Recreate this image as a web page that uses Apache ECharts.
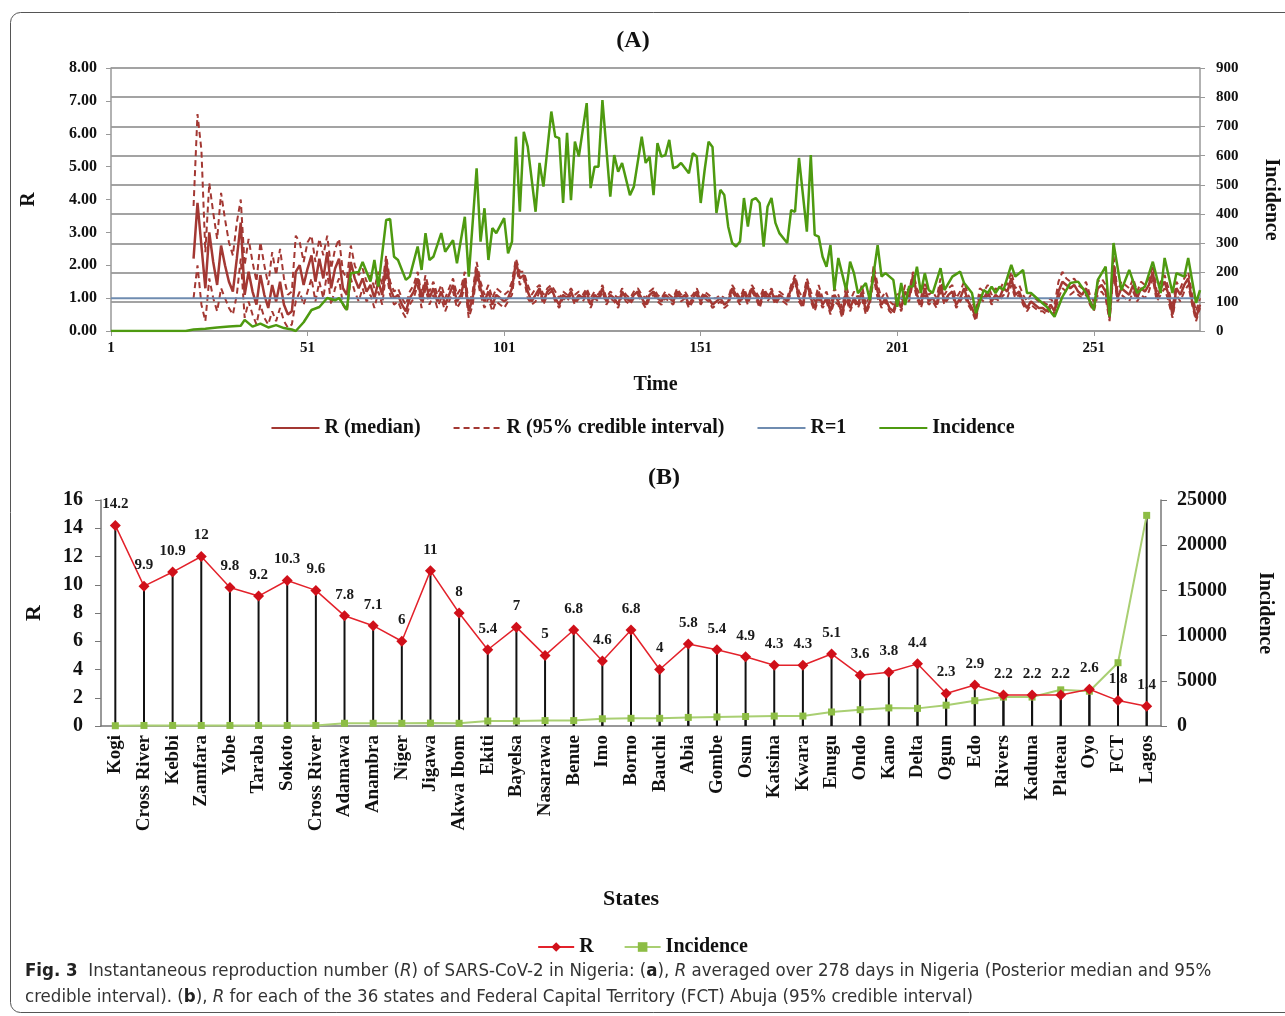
<!DOCTYPE html>
<html>
<head>
<meta charset="utf-8">
<script src="https://cdn.jsdelivr.net/npm/echarts@6/dist/echarts.min.js"></script>
<style>
html, body { margin: 0; background: #fff; }
#main { width: 1285px; height: 1016px; }
</style>
</head>
<body>
<div id="main"></div>
<script>
// ---- panel A : daily series (day 1..278) ----
var incDay = [1,20,22,25,28,31,34,35,37,39,41,43,45,47,48,50,52,54,56,58,59,61,62,64,65,67,68,69,71,72,73,74,76,77,79,80,81,82,83,85,86,88,89,91,92,94,95,96,97,98,99,101,102,103,104,105,106,107,109,110,111,113,114,115,116,117,118,119,120,122,123,124,125,126,128,129,130,131,133,134,136,137,138,139,140,141,142,143,144,145,146,148,149,150,151,152,153,154,155,156,157,158,159,160,161,162,163,164,165,166,167,168,169,170,171,173,174,175,176,178,179,180,181,182,183,184,185,186,188,189,190,191,193,194,195,196,197,198,200,201,202,203,204,205,206,207,208,209,210,212,213,215,217,218,220,221,223,224,225,226,227,228,230,231,233,234,235,237,239,241,243,245,247,249,251,252,254,255,256,258,260,262,264,266,268,269,271,272,274,275,277,278];
var incVal = [0,0,5,8,12,15,18,38,15,25,12,20,10,5,0,30,72,82,113,105,113,72,198,202,236,169,243,152,380,383,254,243,175,186,289,209,335,243,254,335,271,311,232,391,186,557,306,420,243,352,335,386,266,306,665,408,682,631,408,575,494,751,665,660,438,678,448,648,597,780,489,562,562,790,460,602,545,575,465,494,665,575,597,465,643,597,602,654,557,562,575,540,608,597,438,551,648,630,404,483,465,357,301,289,306,455,357,448,455,438,289,425,455,370,335,301,414,408,592,340,602,329,323,254,220,294,140,250,140,237,197,129,164,106,198,294,186,198,175,83,164,89,152,152,220,130,198,140,130,215,140,186,203,164,130,61,140,130,152,130,152,140,226,186,209,130,130,106,83,49,117,164,169,130,72,175,220,49,301,140,209,130,152,237,130,250,130,198,186,250,96,140];

var rStart = 22; // first day with an R estimate
var rMed = [
  2.2,3.9,2.6,1.3,3.0,2.1,1.4,2.6,2.0,1.5,
  1.2,2.2,3.3,1.1,1.8,1.2,0.8,1.7,1.1,0.7,
  1.4,0.9,1.5,0.8,0.5,0.6,1.8,2.0,1.4,1.9,
  2.3,1.5,2.2,1.6,2.4,1.3,1.9,2.2,1.3,1.1,
  2.1,1.6,1.3,1.6,1.2,1.4,1.0,1.5,1.1,2.1,
  1.3,1.0,1.1,0.8,0.6,1.0,1.2,1.6,0.9,1.5,
  1.0,1.3,0.9,1.2,0.8,1.1,1.4,0.9,1.1,1.6,
  0.6,1.0,1.9,1.3,0.9,1.2,0.8,1.1,1.0,0.9,
  1.0,1.3,2.1,1.6,1.7,1.2,0.9,1.1,1.3,0.9,
  1.2,1.3,1.0,0.8,1.1,1.0,1.2,0.9,1.1,1.0,
  1.2,0.8,1.1,1.0,1.3,0.9,1.1,1.0,0.8,1.2,
  1.0,0.9,1.1,1.2,1.0,0.8,1.1,1.2,1.0,0.9,
  1.1,1.0,0.9,1.2,1.0,1.1,0.8,1.0,1.2,0.9,
  1.1,1.0,0.8,0.9,1.0,0.8,0.9,1.3,1.1,0.9,
  1.2,0.9,1.3,1.1,0.8,1.2,1.0,1.2,0.9,1.1,
  1.0,0.9,1.3,1.6,1.0,0.8,1.5,1.0,0.7,1.2,
  0.8,1.0,0.6,1.1,0.9,0.5,1.2,0.7,1.0,0.8,
  1.2,0.6,0.9,1.8,1.2,0.8,1.0,0.7,0.6,1.0,
  0.7,1.2,1.0,1.7,1.1,0.8,1.3,0.9,1.0,0.8,
  1.4,0.9,1.1,1.2,0.8,1.0,1.3,0.9,0.7,0.4,
  1.1,1.0,1.2,0.9,1.1,1.0,1.3,1.2,1.6,1.1,
  1.2,0.9,0.7,0.9,0.8,0.7,0.7,0.6,0.8,0.6,
  1.2,1.5,1.4,1.3,1.4,1.2,1.1,1.3,0.9,0.7,
  1.3,1.4,1.2,0.4,2.0,1.0,1.3,1.2,1.1,1.4,
  1.0,1.3,1.2,1.4,1.8,1.0,1.3,1.5,1.1,0.5,
  1.3,1.1,1.4,1.6,0.9,0.4,0.8
];
var rHi = [
  3.8,6.6,5.5,2.4,4.5,3.6,2.8,4.2,3.4,2.7,
  2.3,3.3,4.0,2.0,2.8,2.1,1.5,2.7,2.0,1.4,
  2.4,1.7,2.5,1.6,1.1,1.2,2.9,2.7,2.1,2.7,
  2.9,2.1,2.8,2.3,2.9,1.9,2.5,2.8,1.8,1.6,
  2.6,2.0,1.7,1.9,1.5,1.7,1.3,1.8,1.4,2.3,
  1.5,1.2,1.3,1.0,0.8,1.2,1.4,1.8,1.1,1.7,
  1.2,1.5,1.1,1.4,1.0,1.3,1.6,1.1,1.3,1.8,
  0.8,1.2,2.1,1.5,1.1,1.4,1.0,1.3,1.2,1.1,
  1.2,1.5,2.2,1.8,1.8,1.4,1.1,1.3,1.4,1.1,
  1.3,1.4,1.2,1.0,1.2,1.1,1.3,1.1,1.2,1.1,
  1.3,1.0,1.2,1.1,1.4,1.0,1.2,1.1,1.0,1.3,
  1.1,1.0,1.2,1.3,1.1,1.0,1.2,1.3,1.1,1.0,
  1.2,1.1,1.0,1.3,1.1,1.2,1.0,1.1,1.3,1.0,
  1.2,1.1,1.0,1.0,1.1,1.0,1.0,1.4,1.2,1.0,
  1.3,1.0,1.4,1.2,1.0,1.3,1.1,1.3,1.0,1.2,
  1.1,1.0,1.4,1.7,1.2,1.0,1.6,1.2,0.9,1.4,
  1.0,1.2,0.8,1.3,1.1,0.7,1.4,0.9,1.2,1.0,
  1.4,0.8,1.1,2.0,1.4,1.0,1.2,0.9,0.8,1.2,
  0.9,1.4,1.2,1.8,1.3,1.0,1.5,1.1,1.2,1.0,
  1.6,1.1,1.3,1.4,1.0,1.2,1.5,1.1,0.9,0.6,
  1.3,1.2,1.4,1.1,1.3,1.2,1.5,1.4,1.8,1.3,
  1.4,1.1,0.9,1.1,1.0,0.9,0.9,0.8,1.0,0.8,
  1.5,1.8,1.6,1.5,1.6,1.4,1.3,1.5,1.1,0.9,
  1.5,1.6,1.4,0.6,2.3,1.2,1.5,1.4,1.3,1.6,
  1.2,1.5,1.4,1.6,2.0,1.2,1.5,1.7,1.3,0.7,
  1.5,1.3,1.6,1.8,1.1,0.6,1.0
];
var rLo = [
  1.0,2.0,0.8,0.3,1.6,1.0,0.6,1.3,1.0,0.7,
  0.5,1.1,2.2,0.4,0.9,0.5,0.2,0.8,0.4,0.2,
  0.6,0.3,0.7,0.3,0.1,0.2,0.9,1.2,0.8,1.2,
  1.6,0.9,1.5,1.0,1.8,0.8,1.3,1.6,0.8,0.6,
  1.6,1.2,0.9,1.3,0.9,1.1,0.7,1.2,0.8,1.8,
  1.1,0.8,0.9,0.6,0.4,0.8,1.0,1.4,0.7,1.3,
  0.8,1.1,0.7,1.0,0.6,0.9,1.2,0.7,0.9,1.4,
  0.4,0.8,1.7,1.1,0.7,1.0,0.6,0.9,0.8,0.7,
  0.9,1.1,2.0,1.4,1.6,1.0,0.8,0.9,1.2,0.8,
  1.1,1.2,0.9,0.7,1.0,0.9,1.1,0.8,1.0,0.9,
  1.1,0.7,1.0,0.9,1.2,0.8,1.0,0.9,0.7,1.1,
  0.9,0.8,1.0,1.1,0.9,0.7,1.0,1.1,0.9,0.8,
  1.0,0.9,0.8,1.1,0.9,1.0,0.7,0.9,1.1,0.8,
  1.0,0.9,0.7,0.8,0.9,0.7,0.8,1.2,1.0,0.8,
  1.1,0.8,1.2,1.0,0.7,1.1,0.9,1.1,0.8,1.0,
  0.9,0.8,1.2,1.5,0.9,0.7,1.4,0.9,0.6,1.0,
  0.7,0.9,0.5,0.9,0.8,0.4,1.0,0.6,0.9,0.7,
  1.0,0.5,0.8,1.6,1.0,0.7,0.9,0.6,0.5,0.9,
  0.6,1.0,0.9,1.5,1.0,0.7,1.1,0.8,0.9,0.7,
  1.2,0.8,1.0,1.1,0.7,0.9,1.1,0.8,0.6,0.3,
  1.0,0.9,1.1,0.8,1.0,0.9,1.1,1.0,1.4,1.0,
  1.1,0.8,0.6,0.8,0.7,0.6,0.6,0.5,0.7,0.5,
  1.0,1.3,1.2,1.1,1.2,1.1,1.0,1.1,0.8,0.6,
  1.1,1.2,1.0,0.3,1.8,0.9,1.1,1.0,0.9,1.2,
  0.9,1.1,1.0,1.2,1.6,0.9,1.1,1.3,0.9,0.4,
  1.1,0.9,1.2,1.4,0.8,0.3,0.7
];
var rOneDay = [1, 278];
var rOneVal = [1, 1];
var dayTicks = [1, 51, 101, 151, 201, 251];

// ---- panel B : states ----
var states = ['Kogi','Cross River','Kebbi','Zamfara','Yobe','Taraba','Sokoto','Cross River','Adamawa','Anambra','Niger','Jigawa','Akwa Ibom','Ekiti','Bayelsa','Nasarawa','Benue','Imo','Borno','Bauchi','Abia','Gombe','Osun','Katsina','Kwara','Enugu','Ondo','Kano','Delta','Ogun','Edo','Rivers','Kaduna','Plateau','Oyo','FCT','Lagos'];
var stateR = [14.2,9.9,10.9,12,9.8,9.2,10.3,9.6,7.8,7.1,6,11,8,5.4,7,5,6.8,4.6,6.8,4,5.8,5.4,4.9,4.3,4.3,5.1,3.6,3.8,4.4,2.3,2.9,2.2,2.2,2.2,2.6,1.8,1.4];
var stateInc = [30,60,60,60,60,60,60,60,300,300,300,320,300,550,550,600,600,800,850,850,950,1000,1050,1100,1100,1550,1800,2000,1950,2300,2800,3200,3200,4000,3850,7000,23300];

function pts(days, vals) {
    var out = [];
    for (var i = 0; i < vals.length; i++) out.push([days[i], vals[i]]);
    return out;
}
function rPts(vals) {
    var out = [];
    for (var i = 0; i < vals.length; i++) out.push([rStart + i, vals[i]]);
    return out;
}

var serif = 'Liberation Serif, Times New Roman, serif';
var tickFont = { fontFamily: serif, fontWeight: 'bold', color: '#111' };
var darkRed = '#a33833';
var green = '#4e9a10';
var capFont = 'Liberation Sans Narrow, DejaVu Sans Condensed, Roboto, sans-serif';

var myChart = echarts.init(document.getElementById('main'));

var option = {
    backgroundColor: '#fff',
    animation: false,
    title: [
        { text: '(A)', left: 628, top: 24, textAlign: 'center',
          textStyle: { fontFamily: serif, fontWeight: 'bold', fontSize: 24, color: '#111' } },
        { text: '(B)', left: 659, top: 461, textAlign: 'center',
          textStyle: { fontFamily: serif, fontWeight: 'bold', fontSize: 24, color: '#111' } }
    ],
    legend: [
        {
            top: 413, left: 'center', itemWidth: 48, itemHeight: 14, itemGap: 32,
            data: ['R (median)', 'R (95% credible interval)', 'R=1', 'Incidence'],
            itemStyle: { color: 'transparent', borderColor: 'transparent', borderWidth: 0 },
            textStyle: { fontFamily: serif, fontWeight: 'bold', fontSize: 20, color: '#111' }
        },
        {
            top: 932, left: 'center', itemWidth: 36, itemHeight: 12, itemGap: 30,
            data: ['R', 'Incidence (states)'],
            formatter: function (n) { return n === 'Incidence (states)' ? 'Incidence' : n; },
            textStyle: { fontFamily: serif, fontWeight: 'bold', fontSize: 20, color: '#111' }
        }
    ],
    grid: [
        { left: 111, right: 85, top: 68, bottom: 685, outerBoundsMode: 'none' },
        { left: 101, right: 124, top: 500, bottom: 290, outerBoundsMode: 'none' }
    ],
    xAxis: [
        {
            type: 'value', gridIndex: 0, min: 1, max: 278,
            name: 'Time', nameLocation: 'middle', nameGap: 44,
            nameTextStyle: { fontFamily: serif, fontWeight: 'bold', fontSize: 20, color: '#111' },
            axisLine: { lineStyle: { color: '#999', width: 1.5 } },
            axisTick: { customValues: dayTicks, length: 5, lineStyle: { color: '#999' } },
            axisLabel: Object.assign({ customValues: dayTicks, fontSize: 15, margin: 10 }, tickFont),
            splitLine: { show: false }
        },
        {
            type: 'category', gridIndex: 1, data: states,
            name: 'States', nameLocation: 'middle', nameGap: 162,
            nameTextStyle: { fontFamily: serif, fontWeight: 'bold', fontSize: 22, color: '#111' },
            axisLine: { lineStyle: { color: '#777', width: 1.5 } },
            axisTick: { length: 6, lineStyle: { color: '#777' } },
            axisLabel: Object.assign({ rotate: 90, interval: 0, fontSize: 19, margin: 9 }, tickFont)
        }
    ],
    yAxis: [
        {
            type: 'value', gridIndex: 0, min: 0, max: 8, interval: 1,
            name: 'R', nameLocation: 'middle', nameGap: 72,
            nameTextStyle: { fontFamily: serif, fontWeight: 'bold', fontSize: 20, color: '#111' },
            axisLine: { show: true, lineStyle: { color: '#999', width: 1.5 } },
            axisTick: { show: true, length: 5, lineStyle: { color: '#999' } },
            axisLabel: Object.assign({ fontSize: 16, margin: 14, formatter: function (v) { return v.toFixed(2); } }, tickFont),
            splitLine: { show: false }
        },
        {
            type: 'value', gridIndex: 0, min: 0, max: 900, interval: 100, position: 'right',
            name: 'Incidence', nameLocation: 'middle', nameGap: 61, nameRotate: -90,
            nameTextStyle: { fontFamily: serif, fontWeight: 'bold', fontSize: 20, color: '#111' },
            axisLine: { show: true, lineStyle: { color: '#999', width: 1.5 } },
            axisTick: { show: true, length: 5, lineStyle: { color: '#999' } },
            axisLabel: Object.assign({ fontSize: 15, margin: 16 }, tickFont),
            splitLine: { show: true, lineStyle: { color: '#a3a3a3', width: 2 } }
        },
        {
            type: 'value', gridIndex: 1, min: 0, max: 16, interval: 2,
            name: 'R', nameLocation: 'middle', nameGap: 56,
            nameTextStyle: { fontFamily: serif, fontWeight: 'bold', fontSize: 22, color: '#111' },
            axisLine: { show: true, lineStyle: { color: '#777', width: 1.5 } },
            axisTick: { show: true, length: 6, lineStyle: { color: '#777' } },
            axisLabel: Object.assign({ fontSize: 20, margin: 18 }, tickFont),
            splitLine: { show: false }
        },
        {
            type: 'value', gridIndex: 1, min: 0, max: 25000, interval: 5000, position: 'right',
            name: 'Incidence', nameLocation: 'middle', nameGap: 94, nameRotate: -90,
            nameTextStyle: { fontFamily: serif, fontWeight: 'bold', fontSize: 20, color: '#111' },
            axisLine: { show: true, lineStyle: { color: '#777', width: 1.5 } },
            axisTick: { show: true, length: 6, lineStyle: { color: '#777' } },
            axisLabel: Object.assign({ fontSize: 20, margin: 16, formatter: function (v) { return String(v); } }, tickFont),
            splitLine: { show: false }
        }
    ],
    series: [
        {
            name: 'R (median)', type: 'line', xAxisIndex: 0, yAxisIndex: 0,
            data: rPts(rMed), symbol: 'none',
            lineStyle: { color: darkRed, width: 2.5 }, itemStyle: { color: darkRed }
        },
        {
            name: 'R (95% credible interval)', type: 'line', xAxisIndex: 0, yAxisIndex: 0,
            data: rPts(rHi), symbol: 'none',
            lineStyle: { color: darkRed, width: 2, type: [6, 4] }, itemStyle: { color: darkRed }
        },
        {
            name: 'R (95% credible interval)', type: 'line', xAxisIndex: 0, yAxisIndex: 0,
            data: rPts(rLo), symbol: 'none',
            lineStyle: { color: darkRed, width: 2, type: [6, 4] }, itemStyle: { color: darkRed }
        },
        {
            name: 'R=1', type: 'line', xAxisIndex: 0, yAxisIndex: 0,
            data: pts(rOneDay, rOneVal), symbol: 'none',
            lineStyle: { color: '#6f8cb0', width: 2 }, itemStyle: { color: '#6f8cb0' }
        },
        {
            name: 'Incidence', type: 'line', xAxisIndex: 0, yAxisIndex: 1,
            data: pts(incDay, incVal), symbol: 'none',
            lineStyle: { color: green, width: 2.5 }, itemStyle: { color: green }
        },
        // drop lines in panel B
        {
            name: 'dropR', type: 'bar', xAxisIndex: 1, yAxisIndex: 2, data: stateR,
            barWidth: 2, barGap: '-100%', itemStyle: { color: '#111' }, silent: true
        },
        {
            name: 'dropInc', type: 'bar', xAxisIndex: 1, yAxisIndex: 3, data: stateInc,
            barWidth: 2, barGap: '-100%', itemStyle: { color: '#111' }, silent: true
        },
        {
            name: 'Incidence (states)', type: 'line', xAxisIndex: 1, yAxisIndex: 3, data: stateInc,
            symbol: 'rect', symbolSize: 7,
            lineStyle: { color: '#a9cf72', width: 2 }, itemStyle: { color: '#8dbd45' }
        },
        {
            name: 'R', type: 'line', xAxisIndex: 1, yAxisIndex: 2, data: stateR,
            symbol: 'diamond', symbolSize: 11,
            lineStyle: { color: '#e3222b', width: 1.5 }, itemStyle: { color: '#d0101a' },
            label: {
                show: true, position: 'top', distance: 8,
                fontFamily: serif, fontWeight: 'bold', fontSize: 15, color: '#1a1a1a'
            }
        }
    ],
    graphic: [
        {
            type: 'rect', left: 8, top: 10, z: -10,
            shape: { width: 1300, height: 1000, r: 10 },
            style: { fill: 'none', stroke: '#555', lineWidth: 1 }
        },
        {
            type: 'text', left: 25, top: 958,
            style: {
                text: '{b|Fig. 3}  Instantaneous reproduction number ({i|R}) of SARS-CoV-2 in Nigeria: ({b|a}), {i|R} averaged over 278 days in Nigeria (Posterior median and 95%\ncredible interval). ({b|b}), {i|R} for each of the 36 states and Federal Capital Territory (FCT) Abuja (95% credible interval)',
                fontFamily: capFont, fontSize: 18.5, fill: '#333', lineHeight: 26,
                rich: {
                    b: { fontFamily: capFont, fontWeight: 'bold', fontSize: 18.5, fill: '#222', lineHeight: 26 },
                    i: { fontFamily: capFont, fontStyle: 'italic', fontSize: 18.5, fill: '#333', lineHeight: 26 }
                }
            }
        }
    ]
};

myChart.setOption(option);
</script>
</body>
</html>
